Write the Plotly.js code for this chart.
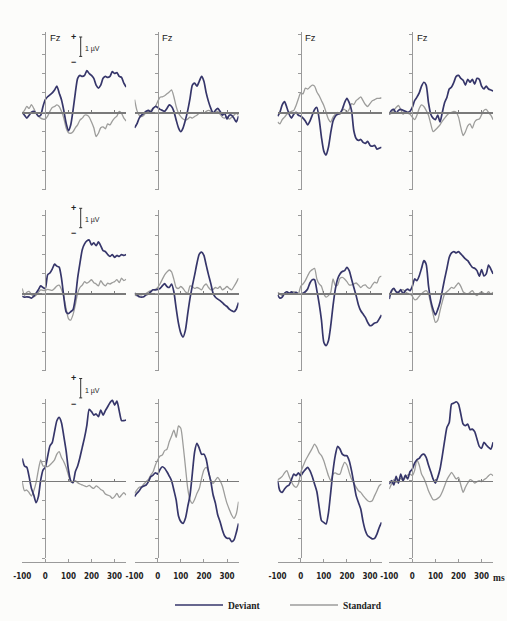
<!DOCTYPE html>
<html><head><meta charset="utf-8">
<script src="https://cdn.plot.ly/plotly-3.0.1.min.js"></script>
<style>html,body{margin:0;padding:0;background:#fcfcfa;}#chart{width:507px;height:621px;}</style>
</head><body><div id="chart"></div>
<script>
// ---- DATA ----
const times = [-100,-90,-80,-70,-60,-50,-40,-30,-20,-10,0,10,20,30,40,50,60,70,80,90,100,110,120,130,140,150,160,170,180,190,200,210,220,230,240,250,260,270,280,290,300,310,320,330,340,350];
const tickTimes = [-100,0,100,200,300];
const tickLabels = ['-100','0','100','200','300'];
const seriesNames = ['Deviant','Standard'];
const electrodeLabel = 'Fz';
const scaleLabel = '1 µV';
const unitLabel = 'ms';

const dev_r1c1 = [0,-0.15,-0.3,-0.15,0,0.05,-0.05,-0.2,-0.15,0.3, 0.65,0.8,0.9,1.0,1.15,1.35,1.0,0.65,0.1,-0.55, -0.95,-0.65,0.1,1.0,1.75,1.9,1.85,1.9,2.15,2.0, 1.9,1.75,1.4,1.25,1.4,1.75,1.85,1.8,1.85,2.1, 2.0,2.05,1.85,1.8,1.5,1.3];
const std_r1c1 = [-0.05,0.1,0.3,0.2,0.4,0.2,-0.05,-0.2,-0.3,-0.35, -0.35,-0.2,0.05,0.25,0.3,0.38,0.3,0.05,-0.3,-0.8, -1.05,-1.08,-1.0,-0.8,-0.65,-0.4,-0.3,-0.15,-0.15,-0.25, -0.5,-0.8,-1.25,-1.08,-0.8,-0.75,-0.85,-0.6,-0.65,-0.45, -0.3,-0.2,0.05,-0.05,-0.3,-0.45];
const dev_r1c2 = [-0.8,-0.6,-0.3,-0.15,-0.05,0.05,0.1,0,0.2,0.3, 0.25,0.15,0.1,0.05,0.2,0.38,0.3,0.05,-0.4,-0.8, -1.0,-0.8,-0.4,0.1,0.72,1.4,1.5,1.35,1.6,1.85, 1.6,1.0,0.55,0.2,-0.05,0.1,0.2,0.05,-0.15,-0.05, -0.35,-0.15,-0.15,-0.3,-0.5,-0.2];
const std_r1c2 = [0.65,0.1,-0.15,-0.22,-0.15,0,0.05,0.1,0.2,0.3, 0.55,0.78,0.8,0.85,0.95,1.05,1.15,0.8,0.3,-0.05, -0.22,-0.35,-0.4,-0.35,-0.25,-0.3,-0.22,-0.15,-0.05,0, -0.05,0.05,0.1,0.05,-0.05,0,0.05,-0.1,-0.25,-0.3, -0.22,-0.35,-0.25,-0.15,-0.05,-0.15];
const dev_r1c3 = [-0.2,0,0.38,0.55,0.25,-0.1,-0.3,-0.1,0,-0.15, -0.2,-0.3,-0.45,-0.65,-0.45,-0.15,0.15,0.25,-0.35,-1.3, -2.0,-2.2,-1.8,-1.05,-0.45,-0.2,-0.1,-0.05,0.15,0.5, 0.72,0.5,0.1,-0.95,-1.35,-1.45,-1.4,-1.55,-1.6,-1.5, -1.7,-1.75,-1.7,-1.9,-1.85,-1.8];
const std_r1c3 = [-0.5,-0.6,-0.38,-0.25,-0.1,0,0.05,0.1,0.35,0.7, 1.0,0.95,1.25,1.2,1.3,1.4,1.35,1.05,0.85,0.6, 0.35,0,-0.35,-0.5,-0.25,-0.1,0,-0.1,0.1,0.15, 0,0.15,0.45,0.4,0.6,0.7,0.8,0.6,0.4,0.3, 0.45,0.6,0.65,0.72,0.72,0.75];
const dev_r1c4 = [-0.1,0.1,0.15,-0.05,0.1,0.15,0.1,0.05,0,0.05, 0.25,0.6,0.78,1.0,1.35,1.55,1.4,0.5,-0.1,-0.3, -0.38,-0.15,-0.5,0,0.5,0.78,1.2,1.3,1.55,1.85, 1.9,1.75,1.65,1.4,1.7,1.55,1.7,1.45,1.75,1.7, 1.35,1.2,1.35,1.2,1.15,1.1];
const std_r1c4 = [-0.1,-0.05,0.1,0.25,0.35,0.15,-0.1,0,-0.05,-0.1, -0.25,-0.38,-0.15,0.2,0.38,0.3,0.1,-0.15,-0.6,-1.0, -0.9,-0.78,-0.65,-0.45,-0.3,-0.15,-0.05,0,0.05,0, -0.25,-0.78,-1.2,-1.0,-0.7,-0.6,-0.82,-0.5,-0.38,-0.35, -0.12,0.1,0.15,0,-0.15,-0.38];

const dev_r2c1 = [-0.15,-0.2,-0.18,-0.2,-0.25,-0.15,0,0.18,0.38,0.3, 0.25,0.95,1.05,1.25,1.5,1.4,1.35,0.78,-0.18,-0.95, -1.05,-0.95,-0.85,-0.25,0.78,1.55,2.25,2.55,2.7,2.75, 2.5,2.6,2.45,2.65,2.45,2.2,2.15,2.0,1.9,2.0, 1.85,1.95,1.9,2.0,1.95,2.0];
const std_r2c1 = [0.25,-0.1,0.05,0.1,-0.05,-0.18,-0.1,0.05,0.18,0.15, 0.15,0.2,0.18,0.15,0.25,0.38,0.42,0.2,-0.18,-0.78, -1.3,-1.38,-1.1,-0.6,0,0.3,0.42,0.6,0.52,0.6, 0.7,0.55,0.48,0.38,0.65,0.48,0.38,0.52,0.48,0.55, 0.6,0.7,0.55,0.78,0.65,0.72];
const dev_r2c2 = [0,-0.08,-0.18,-0.2,-0.18,-0.08,-0.03,0.08,0.18,0.18, 0.2,0.25,0.38,0.5,0.35,0.3,0.48,0.08,-0.78,-1.55, -2.05,-2.25,-1.9,-1.05,-0.25,0.38,0.95,1.55,2.02,2.12, 1.95,1.45,0.95,0.5,0,-0.2,-0.3,-0.38,-0.48,-0.6, -0.68,-0.82,-0.9,-0.95,-0.82,-0.48];
const std_r2c2 = [-0.08,-0.13,-0.08,-0.08,-0.03,0,0.08,0.13,0.18,0.2, 0.3,0.48,0.72,0.95,1.1,1.2,1.1,0.72,0.3,0.25, 0.35,0.25,0.08,0,0.38,0.35,0.25,0.3,0.25,0.18, 0.38,0.48,0.3,0.18,0.2,0.3,0.25,0.35,0.18,0.25, 0.35,0.25,0.18,0.35,0.55,0.78];
const dev_r2c3 = [-0.08,-0.25,-0.2,0,0.08,0,0.08,-0.03,0.05,-0.03, -0.03,0,0.08,0.22,0.53,0.7,0.7,0.14,-0.55,-1.4, -2.52,-2.7,-2.45,-1.67,-0.63,0.22,0.74,1.0,1.12,1.17, 1.34,1.17,0.74,0.3,-0.12,-0.6,-0.9,-1.07,-1.24,-1.5, -1.67,-1.63,-1.53,-1.5,-1.32,-1.12];
const std_r2c3 = [0.05,-0.03,-0.12,0,0.08,-0.03,0.05,0.08,0.05,-0.03, 0.36,0.48,0.65,0.9,1.12,1.22,1.29,0.74,0.48,0.36, -0.03,-0.2,-0.12,0.05,0.74,0.4,0.43,0.77,0.82,0.74, 0.6,0.43,0.43,0.48,0.53,0.43,0.3,0.4,0.43,0.3, 0.26,0.43,0.57,0.53,0.82,0.88];
const dev_r2c4 = [-0.3,0.14,0.26,0.08,0.05,0.19,-0.03,0.14,0.22,0.14, 0.36,0.74,0.65,0.9,1.29,1.68,1.5,0.4,-0.38,-0.84, -1.12,-0.84,-0.46,0.14,0.74,1.29,1.86,2.08,2.15,2.08, 2.15,2.03,1.9,1.77,1.68,1.5,1.34,1.29,1.17,0.88, 1.22,0.9,1.0,1.46,1.25,1.0];
const std_r2c4 = [-0.03,0.08,0.22,0.08,0.05,0.14,0.19,0.08,0,-0.03, -0.15,-0.33,-0.3,-0.15,-0.03,0.08,0.14,-0.03,-0.55,-1.07, -1.5,-1.4,-0.9,-0.43,-0.03,0.08,0.19,0.3,0.26,0.4, 0.53,0.36,0.08,0,-0.03,0.05,0.14,-0.03,-0.12,0, 0.08,0,-0.03,0.08,-0.03,0.05];

const dev_r3c1 = [1.15,0.76,0.69,0.2,-0.4,-0.74,-1.13,-0.82,0.03,0.55, 0.69,1.24,1.79,1.96,2.53,3.09,3.26,2.99,2.3,1.55, 0.58,0,-0.1,0.46,0.76,1.2,1.72,2.23,2.87,3.68, 3.56,3.38,3.44,3.3,3.64,3.38,3.61,3.81,4.02,4.16, 3.9,4.1,3.6,3.1,3.1,3.13];
const std_r3c1 = [-0.05,-0.52,-0.48,-0.62,-0.79,-0.52,-0.1,0.55,1.07,0.76, 0.76,0.72,0.81,0.93,1.07,1.37,1.5,1.2,0.98,0.69, 0.29,-0.05,-0.1,0,-0.1,-0.17,-0.22,-0.27,-0.31,-0.24, -0.34,-0.4,-0.27,-0.34,-0.45,-0.52,-0.69,-0.74,-0.79,-0.91, -0.82,-0.65,-0.86,-0.74,-0.62,-0.74];
const dev_r3c2 = [-0.82,-0.65,-0.52,-0.34,-0.27,-0.22,-0.05,0.21,0.29,0.41, 0.34,0.58,0.72,0.64,0.46,0.24,0,-0.48,-1.0,-1.82, -2.11,-2.2,-1.94,-1.34,-0.74,0.38,1.5,1.92,1.67,1.36, 1.37,1.1,0.46,-0.05,-0.74,-1.17,-1.77,-2.11,-2.54,-2.85, -2.97,-2.97,-3.14,-3.06,-2.68,-2.2];
const std_r3c2 = [-0.65,-0.48,-0.34,-0.31,-0.17,-0.05,0.07,0.29,0.46,0.81, 1.07,1.27,1.32,1.55,1.62,2.01,2.3,2.61,2.23,2.82, 2.7,1.84,0.72,-0.4,-1.0,-1.17,-0.96,-0.65,-0.4,0.12, 0.55,0.69,0.46,0.03,-0.14,0.03,0.17,0,-0.27,-0.74, -1.17,-1.48,-1.77,-1.94,-1.72,-1.08];
const dev_r3c3 = [0,-0.52,-0.6,-0.43,-0.29,-0.22,0.05,0.34,0.26,0.4, 0.26,0.43,0.57,0.69,0.52,0.22,-0.17,-0.57,-1.37,-2.06, -2.15,-2.23,-1.67,-0.6,0.52,1.32,1.77,1.63,1.37,1.29, 1.29,1.03,0.52,-0.12,-0.77,-1.12,-1.46,-2.11,-2.58,-2.84, -2.92,-3.0,-2.97,-2.75,-2.41,-2.15];
const std_r3c3 = [0.05,0.12,0.22,0.4,0.52,0.22,-0.05,-0.26,-0.34,-0.17, 0.43,0.74,1.03,1.25,1.46,1.67,1.89,1.72,1.43,1.29, 1.03,0.64,0.26,0,0.34,0.4,0.34,0.34,0.69,0.94, 0.81,0.43,0.09,-0.12,-0.34,-0.52,-0.6,-0.77,-0.91,-1.03, -1.08,-1.03,-0.77,-0.52,-0.26,-0.17];
const dev_r3c4 = [-0.17,0,-0.22,0.22,-0.12,0.34,0,0.29,0.09,0.46, 0.6,0.91,1.08,1.15,1.32,1.37,1.2,0.81,0.46,0.09, -0.12,0.17,0.6,1.29,2.06,2.75,3.0,3.95,4.0,4.07, 3.95,3.44,2.92,2.84,2.92,2.63,2.66,2.53,2.15,1.77, 1.67,1.98,1.84,1.72,1.63,1.98];
const std_r3c4 = [-0.43,-0.17,0.05,-0.09,0.05,0.12,0,0.17,0.29,0.34, 0.26,0.52,1.08,0.81,0.34,0.12,-0.17,-0.52,-0.77,-0.98, -0.98,-0.91,-0.81,-0.57,-0.26,0.05,0.26,0.43,0.26,0.09, 0.17,-0.22,-0.6,-0.34,-0.12,0.05,0,-0.12,-0.05,0, -0.05,0.05,0.12,0.26,0.34,0.26];

const deviant = [[dev_r1c1,dev_r1c2,dev_r1c3,dev_r1c4],[dev_r2c1,dev_r2c2,dev_r2c3,dev_r2c4],[dev_r3c1,dev_r3c2,dev_r3c3,dev_r3c4]];
const standard = [[std_r1c1,std_r1c2,std_r1c3,std_r1c4],[std_r2c1,std_r2c2,std_r2c3,std_r2c4],[std_r3c1,std_r3c2,std_r3c3,std_r3c4]];

// ---- LAYOUT GEOMETRY (pixels) ----
const W = 507, H = 621;
const colZeroX = [45.3, 157.7, 300.7, 412.3];
const pxPerMs = 0.231;
const rowZeroY = [112.3, 293.3, 480.7];
const pxPerUv = 19.4;
const rowTop = [4.15, 4.29, 4.2];
const rowBottom = -4.0;
const bottomAxisY = 561.7;
const scaleBarX = 80.7, scaleBarTop = [37, 208.3, 378.5];

const devColor = '#36366a', stdColor = '#9d9d9b';
const axisColor = '#9a9a9a', zeroColor = '#7a7a7a';

const data = [];
const layout = {
  width: W, height: H, margin: {l:0, r:0, t:0, b:0},
  paper_bgcolor: '#fcfcfa', plot_bgcolor: 'rgba(0,0,0,0)',
  showlegend: true,
  legend: {orientation:'h', x: 170/W, xanchor:'left', y: 1-605/H, yanchor:'middle',
    itemwidth: 48, entrywidth: 52, bgcolor:'rgba(0,0,0,0)',
    font:{family:'Liberation Serif, Times New Roman, serif', size:9.5, weight:'bold', color:'#222'}},
  annotations: [], shapes: []
};

for (let r = 0; r < 3; r++) {
  for (let c = 0; c < 4; c++) {
    const k = r*4 + c + 1;
    const xd = [(colZeroX[c] - 100*pxPerMs)/W, (colZeroX[c] + 350*pxPerMs)/W];
    const yd = [1 - (rowZeroY[r] - rowBottom*pxPerUv)/H, 1 - (rowZeroY[r] - rowTop[r]*pxPerUv)/H];
    layout['xaxis'+k] = {domain: xd, range: [-100, 350], anchor: 'free', position: 1 - rowZeroY[r]/H,
      showline: true, linecolor: zeroColor, linewidth: 1.2, tickvals: [100,200,300], ticks: 'inside',
      ticklen: 2, tickcolor: zeroColor, showticklabels: false, showgrid: false, zeroline: false, fixedrange: true};
    layout['yaxis'+k] = {domain: yd, range: [rowBottom, rowTop[r]], anchor: 'free', position: colZeroX[c]/W,
      showline: true, linecolor: axisColor, linewidth: 1, ticks: 'outside', ticklen: 3, tickcolor: axisColor,
      tick0: 0, dtick: 1, showticklabels: false, showgrid: false, zeroline: false, fixedrange: true};
    data.push({x: times, y: standard[r][c], xaxis: 'x'+k, yaxis: 'y'+k, mode: 'lines', name: seriesNames[1],
      legendgroup: 'std', legendrank: 2, showlegend: k === 1, hoverinfo: 'skip',
      line: {color: stdColor, width: 1.3, shape: 'spline', smoothing: 0.6}});
    data.push({x: times, y: deviant[r][c], xaxis: 'x'+k, yaxis: 'y'+k, mode: 'lines', name: seriesNames[0],
      legendgroup: 'dev', legendrank: 1, showlegend: k === 1, hoverinfo: 'skip',
      line: {color: devColor, width: 1.7, shape: 'spline', smoothing: 0.6}});
    if (r === 0) {
      layout.annotations.push({xref:'paper', yref:'paper', x: (colZeroX[c]+2.5)/W, y: 1-37/H, xanchor:'left', yanchor:'middle',
        showarrow:false, text: electrodeLabel, font:{family:'Liberation Sans, Arial, sans-serif', size:9.5, color:'#222'}});
    }
    if (r === 2) {
      const kb = 12 + c + 1;
      layout['xaxis'+kb] = {domain: xd, range: [-100, 350], overlaying: 'x'+k, anchor: 'free', position: 1 - bottomAxisY/H,
        showline: true, linecolor: axisColor, linewidth: 1, ticks: 'inside', ticklen: 3, tickcolor: axisColor,
        ticklabelstandoff: 7,
        tickvals: tickTimes, ticktext: tickLabels, showgrid: false, zeroline: false, fixedrange: true,
        tickfont: {family: 'Liberation Sans Narrow, DejaVu Sans Condensed, Arial Narrow, sans-serif', size: 8, weight: 'bold', color: '#222'}};
      data.push({x: [], y: [], xaxis: 'x'+kb, yaxis: 'y'+k, mode: 'lines', showlegend: false, hoverinfo: 'skip'});
    }
  }
  // scale bar for each row (left column)
  const t = scaleBarTop[r], b = t + pxPerUv;
  layout.shapes.push({type:'line', xref:'paper', yref:'paper', x0: scaleBarX/W, x1: scaleBarX/W, y0: 1-t/H, y1: 1-b/H, line:{color:'#333', width:1}});
  layout.shapes.push({type:'line', xref:'paper', yref:'paper', x0: (scaleBarX-1.5)/W, x1: (scaleBarX+1.5)/W, y0: 1-t/H, y1: 1-t/H, line:{color:'#333', width:1}});
  layout.shapes.push({type:'line', xref:'paper', yref:'paper', x0: (scaleBarX-1.5)/W, x1: (scaleBarX+1.5)/W, y0: 1-b/H, y1: 1-b/H, line:{color:'#333', width:1}});
  layout.annotations.push({xref:'paper', yref:'paper', x: 73.5/W, y: 1-(t-0.5)/H, xanchor:'center', yanchor:'middle', showarrow:false,
    text:'+', font:{family:'Liberation Sans, Arial, sans-serif', size:9, weight:'bold', color:'#222'}});
  layout.annotations.push({xref:'paper', yref:'paper', x: 73.5/W, y: 1-(t+25)/H, xanchor:'center', yanchor:'middle', showarrow:false,
    text:'−', font:{family:'Liberation Sans, Arial, sans-serif', size:9, weight:'bold', color:'#222'}});
  layout.annotations.push({xref:'paper', yref:'paper', x: 82.5/W, y: 1-(t+12)/H, xanchor:'left', yanchor:'middle', showarrow:false,
    text: scaleLabel, font:{family:'Liberation Sans Narrow, Liberation Sans, Arial, sans-serif', size:7, color:'#222'}});
}
layout.annotations.push({xref:'paper', yref:'paper', x: 507/W, y: 1-578/H, xanchor:'right', yanchor:'middle', showarrow:false,
  text: unitLabel, font:{family:'Liberation Serif, Times New Roman, serif', size:9.5, weight:'bold', color:'#222'}});

Plotly.newPlot('chart', data, layout, {staticPlot: true, displayModeBar: false});
</script></body></html>
